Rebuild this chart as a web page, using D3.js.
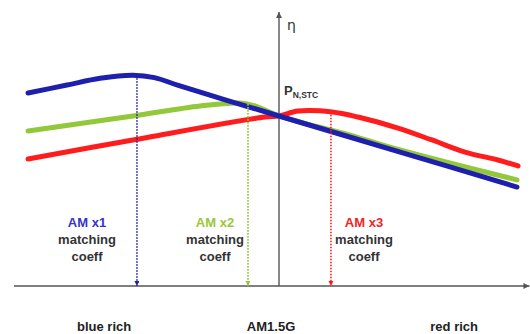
<!DOCTYPE html>
<html><head><meta charset="utf-8">
<script src="https://cdn.jsdelivr.net/npm/d3@7"></script>
<style>html,body{margin:0;padding:0;background:#fff;}svg{display:block;}</style>
</head><body>
<svg id="c" width="530" height="334"></svg>
<script>
// spectral position (0 = AM1.5G), relative efficiency (1 = P N,STC)
const blueX  = [-0.947,-0.800,-0.675,-0.551,-0.470,-0.380,-0.200,0,0.457,0.898];
const blueY  = [1.135,1.182,1.222,1.240,1.226,1.180,1.094,1.0,0.788,0.582];
const greenX = [-0.947,-0.551,-0.298,-0.147,-0.091,0,0.268,0.457,0.898];
const greenY = [0.912,1.0,1.059,1.076,1.059,1.0,0.888,0.800,0.624];
const redX   = [-0.947,-0.551,-0.053,0,0.072,0.2,0.298,0.449,0.577,0.702,0.826,0.902];
const redY   = [0.747,0.859,0.994,1.0,1.029,1.024,0.994,0.929,0.859,0.788,0.741,0.706];
const matchLabels = ["AM x1","AM x2","AM x3"];
const matchX = [-0.536,-0.117,0.196];
const matchTop = [1.24,1.07,1.025];
const bottomLabels = ["blue rich","AM1.5G","red rich"];
const bottomX = [-0.66,-0.03,0.661];

const colors = {blue:"#1f1fae", green:"#92c83a", red:"#ff1c1c"};
const labelColors = ["#3535c8","#99c83a","#f02424"];

const svg = d3.select("#c");
const x = d3.scaleLinear().domain([-1,1]).range([14,544]);
const y = d3.scaleLinear().domain([0,1.6]).range([286,14]);

const defs = svg.append("defs");
function marker(id,color,w,h){
  defs.append("marker").attr("id",id).attr("viewBox","0 0 10 10")
    .attr("refX",10).attr("refY",5).attr("markerWidth",w).attr("markerHeight",h)
    .attr("markerUnits","userSpaceOnUse").attr("orient","auto")
    .append("path").attr("d","M0,0L10,5L0,10Z").attr("fill",color);
}
marker("ax","#555",7,6);
marker("mb",colors.blue,6,5);
marker("mg",colors.green,6,5);
marker("mr",colors.red,6,5);

// axes
svg.append("line").attr("x1",x(-1)).attr("x2",x(0.945)).attr("y1",y(0)).attr("y2",y(0))
  .attr("stroke","#555").attr("stroke-width",1.4).attr("marker-end","url(#ax)");
svg.append("line").attr("x1",x(0)).attr("x2",x(0)).attr("y1",y(0)).attr("y2",y(1.6)-2)
  .attr("stroke","#555").attr("stroke-width",1.4).attr("marker-end","url(#ax)");

const line = d3.line().x(d=>x(d[0])).y(d=>y(d[1])).curve(d3.curveCatmullRom.alpha(0.5));
const series = [
  {xs:redX, ys:redY, c:colors.red},
  {xs:greenX, ys:greenY, c:colors.green},
  {xs:blueX, ys:blueY, c:colors.blue}
];
series.forEach(s=>{
  svg.append("path").datum(s.xs.map((v,i)=>[v,s.ys[i]]))
    .attr("d",line).attr("fill","none").attr("stroke",s.c)
    .attr("stroke-width",5).attr("stroke-linecap","round");
});

// matching lines
const mk = ["mb","mg","mr"];
const mc = [colors.blue,colors.green,colors.red];
matchX.forEach((mx,i)=>{
  svg.append("line").attr("x1",x(mx)).attr("x2",x(mx)).attr("y1",y(matchTop[i])).attr("y2",y(0))
    .attr("stroke",mc[i]).attr("stroke-width",1.6).attr("stroke-dasharray","1.6,1.4")
    .attr("marker-end","url(#"+mk[i]+")");
});

// labels
const labelCx = [87,215,364];
const font = "'Liberation Sans', Arial, sans-serif";
labelCx.forEach((cx,i)=>{
  const g = svg.append("g").attr("font-family",font).attr("font-weight","bold")
    .attr("font-size",13).attr("text-anchor","middle");
  g.append("text").attr("x",cx).attr("y",227).attr("fill",labelColors[i]).text(matchLabels[i]);
  g.append("text").attr("x",cx).attr("y",244).attr("fill","#333").text("matching");
  g.append("text").attr("x",cx).attr("y",261).attr("fill","#333").text("coeff");
});

svg.append("g").attr("font-family",font).attr("font-weight","bold").attr("font-size",13)
  .attr("text-anchor","middle").attr("fill","#222")
  .selectAll("text").data(bottomLabels).join("text")
  .attr("x",(d,i)=>x(bottomX[i])).attr("y",331).text(d=>d);

svg.append("text").attr("x",x(0)+8).attr("y",30).attr("font-family","'DejaVu Sans', sans-serif")
  .attr("font-size",14).attr("fill","#333").text("η");

const p = svg.append("text").attr("x",x(0)+5).attr("y",y(1)-21).attr("font-family",font)
  .attr("font-weight","bold").attr("fill","#333").attr("font-size",13);
p.append("tspan").text("P");
p.append("tspan").attr("font-size",8.5).attr("dy",3).text("N,STC");
</script>
</body></html>
